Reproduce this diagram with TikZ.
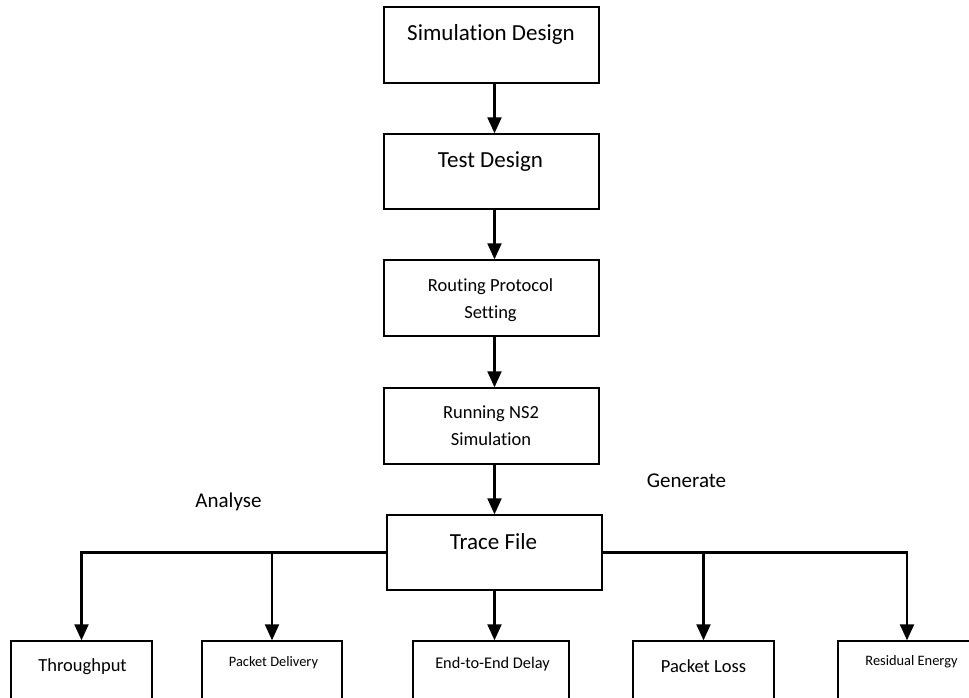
\documentclass[tikz,border=0pt]{standalone}
\usepackage{fontspec}
\setmainfont[Ligatures=NoCommon]{Carlito}
\usetikzlibrary{arrows.meta}
\newcommand\fcbig{\fontsize{23}{27}\selectfont}
\newcommand\fcmid{\fontsize{21}{25}\selectfont}
\newcommand\fcsml{\fontsize{18.5}{22}\selectfont}
\newcommand\fcdly{\fontsize{16.3}{20}\selectfont}
\newcommand\fctny{\fontsize{14.4}{18}\selectfont}
\begin{document}
\begin{tikzpicture}[x=1pt,y=-1pt,
  fcbox/.style={draw,line width=1.4pt,inner sep=0pt},
  fctext/.style={anchor=base,inner sep=0pt},
  fcarrow/.style={-{Triangle[width=14pt,length=16pt]}}]%
% NS2 simulation flow, pixel units, y going down
\ifx\fclw\undefined\newdimen\fclw\fi
\global\def\fcdraw{\draw[line width=\fclw]}
\global\def\fcstop{;}
\fclw=2.2pt
\useasboundingbox (0,0) rectangle (969,697);
\clip (0,0) rectangle (969,697);
% main column
\node[fcbox,minimum width=215pt,minimum height=76pt] (sim) at (491.5,45) {};
\node[fcbox,minimum width=215pt,minimum height=75pt] (test) at (491.5,171.5) {};
\node[fcbox,minimum width=215pt,minimum height=76pt] (route) at (491.5,298) {};
\node[fcbox,minimum width=215pt,minimum height=76pt] (run) at (491.5,426) {};
\node[fcbox,minimum width=215pt,minimum height=75pt] (trace) at (494.5,552.5) {};
\node[fctext,font=\fcbig] (simtxt) at (491,40) {Simulation Design};
\node[fctext,font=\fcbig] (testtxt) at (490.5,167) {Test Design};
\node[fctext,font=\fcsml] (routetxta) at (490.5,291) {Routing Protocol};
\node[fctext,font=\fcsml] (routetxtb) at (490.5,318) {Setting};
\node[fctext,font=\fcsml] (runtxta) at (491,418) {Running NS2};
\node[fctext,font=\fcsml] (runtxtb) at (491,445) {Simulation};
\node[fctext,font=\fcbig] (tracetxt) at (493.5,549) {Trace File};
\fcdraw[fcarrow] (sim.south -| trace) -- (test.north -| trace)\fcstop
\fcdraw[fcarrow] (test.south -| trace) -- (route.north -| trace)\fcstop
\fcdraw[fcarrow] (route.south -| trace) -- (run.north -| trace)\fcstop
\fcdraw[fcarrow] (run.south -| trace) -- (trace.north)\fcstop
\node[fctext,font=\fcmid] (analyse) at (228.5,507) {Analyse};
\node[fctext,font=\fcmid] (generate) at (686.5,487) {Generate};
% result boxes, cut by the bottom edge
\node[fcbox,minimum width=141pt,minimum height=79pt] (thru) at (81.5,680.5) {};
\node[fcbox,minimum width=140pt,minimum height=79pt] (deliv) at (272,680.5) {};
\node[fcbox,minimum width=156pt,minimum height=79pt] (delay) at (491,680.5) {};
\node[fcbox,minimum width=141pt,minimum height=79pt] (loss) at (703.5,680.5) {};
\node[fcbox,minimum width=138pt,minimum height=79pt] (resid) at (907,680.5) {};
\node[fctext,font=\fcsml] (thrutxt) at (82.5,671) {Throughput};
\node[fctext,font=\fctny] (delivtxt) at (273.5,666) {Packet Delivery};
\node[fctext,font=\fcdly] (delaytxt) at (492.5,668) {End-to-End Delay};
\node[fctext,font=\fcsml] (losstxt) at (703.5,672) {Packet Loss};
\node[fctext,font=\fctny] (residtxt) at (911.5,665) {Residual Energy};
\coordinate (lj) at (deliv.north |- trace.west);
\coordinate (rj) at (loss.north |- trace.east);
\fcdraw[fcarrow] (trace.west) -| (thru.north)\fcstop
\fcdraw[fcarrow] (lj) -- (deliv.north)\fcstop
\fcdraw[fcarrow] (trace.south) -- (trace.south |- delay.north)\fcstop
\fcdraw[fcarrow] (rj) -- (loss.north)\fcstop
\fcdraw[fcarrow] (trace.east) -| (resid.north)\fcstop
\end{tikzpicture}
\end{document}
